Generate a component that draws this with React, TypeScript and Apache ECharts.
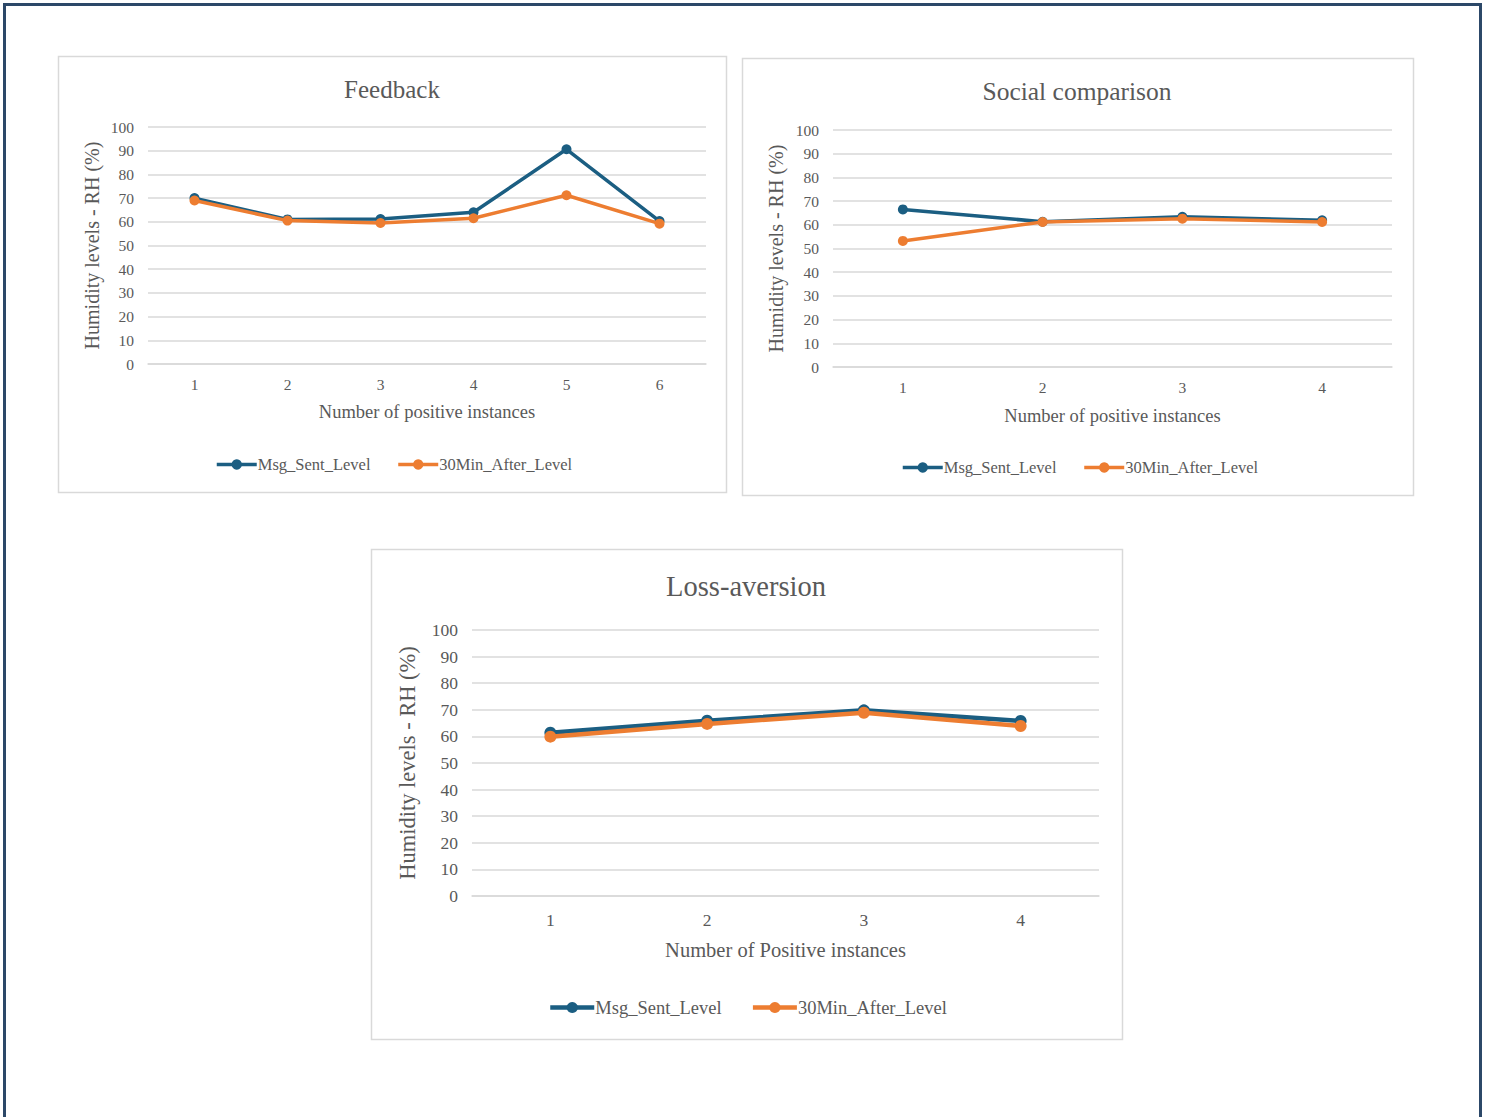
import React, { useEffect, useRef } from "react";
import * as echarts from "echarts";

// Humidity readings (RH %) per instance, per nudge strategy
const feedbackCategories = ["1", "2", "3", "4", "5", "6"];
const feedbackMsgSent = [70, 61, 61.2, 64, 90.6, 60.3];
const feedbackAfter = [69, 60.5, 59.5, 61.5, 71.2, 59.2];

const socialCategories = ["1", "2", "3", "4"];
const socialMsgSent = [66.5, 61.3, 63.4, 61.9];
const socialAfter = [53.2, 61.2, 62.6, 61.2];

const lossCategories = ["1", "2", "3", "4"];
const lossMsgSent = [61.4, 65.9, 69.8, 65.8];
const lossAfter = [59.9, 64.7, 68.9, 63.9];

const seriesNames = ["Msg_Sent_Level", "30Min_After_Level"];
const seriesColors = ["#1b5e82", "#ed7d31"];

const FONT = "Liberation Serif, Times New Roman, serif";
const TEXT = "#595959";

type Panel = {
  title: string;
  xName: string;
  categories: string[];
  values: number[][];
  box: { x: number; y: number; w: number; h: number };
  grid: { left: number; top: number; width: number; height: number };
  titleX: number;
  titleY: number;
  titleSize: number;
  labelSize: number;
  nameSize: number;
  yNameSize: number;
  legendSize: number;
  legendLeft: number;
  legendY: number;
  legendGap: number;
  iconW: number;
  iconH: number;
  lineW: number;
  markSize: number;
  yNameGap: number;
  xNameGap: number;
  labelMargin: number;
};

const panels: Panel[] = [
  {
    title: "Feedback",
    xName: "Number of positive instances",
    categories: feedbackCategories,
    values: [feedbackMsgSent, feedbackAfter],
    box: { x: 58, y: 56, w: 668, h: 436 },
    grid: { left: 148, top: 127, width: 558, height: 237 },
    titleX: 392,
    titleY: 89,
    titleSize: 25,
    labelSize: 15.5,
    nameSize: 18.5,
    yNameSize: 20,
    legendSize: 16.5,
    legendLeft: 215,
    legendY: 456,
    legendGap: 26,
    iconW: 40,
    iconH: 13,
    lineW: 3.5,
    markSize: 10,
    yNameGap: 46,
    xNameGap: 38,
    labelMargin: 12,
  },
  {
    title: "Social comparison",
    xName: "Number of positive instances",
    categories: socialCategories,
    values: [socialMsgSent, socialAfter],
    box: { x: 742, y: 58, w: 671, h: 437 },
    grid: { left: 833, top: 130, width: 559, height: 237 },
    titleX: 1077,
    titleY: 91,
    titleSize: 25.5,
    labelSize: 15.5,
    nameSize: 18.5,
    yNameSize: 20,
    legendSize: 16.5,
    legendLeft: 901,
    legendY: 459,
    legendGap: 26,
    iconW: 40,
    iconH: 13,
    lineW: 3.5,
    markSize: 10,
    yNameGap: 47,
    xNameGap: 39,
    labelMargin: 12,
  },
  {
    title: "Loss-aversion",
    xName: "Number of Positive instances",
    categories: lossCategories,
    values: [lossMsgSent, lossAfter],
    box: { x: 371, y: 549, w: 751, h: 490 },
    grid: { left: 472, top: 630, width: 627, height: 266 },
    titleX: 746,
    titleY: 586,
    titleSize: 28.5,
    labelSize: 17.5,
    nameSize: 20.5,
    yNameSize: 22.5,
    legendSize: 18.5,
    legendLeft: 548,
    legendY: 998,
    legendGap: 29,
    iconW: 44,
    iconH: 14,
    lineW: 4.5,
    markSize: 12,
    yNameGap: 53,
    xNameGap: 43,
    labelMargin: 15,
  },
];

export default function App() {
  const ref = useRef<HTMLDivElement>(null);

  useEffect(() => {
    if (!ref.current) return;
    const chart = echarts.init(ref.current, undefined, { renderer: "svg" });

    const graphic: any[] = [
      {
        type: "rect",
        shape: { x: 4.5, y: 4.5, width: 1476, height: 1130 },
        style: { fill: "none", stroke: "#2c4868", lineWidth: 3 },
        z: 10,
      },
    ];
    panels.forEach((p) => {
      graphic.push({
        type: "rect",
        shape: { x: p.box.x + 0.5, y: p.box.y + 0.5, width: p.box.w, height: p.box.h },
        style: { fill: "#ffffff", stroke: "#d9d9d9", lineWidth: 1.5 },
        z: -10,
      });
      graphic.push({
        type: "text",
        x: p.titleX,
        y: p.titleY,
        style: {
          text: p.title,
          font: `${p.titleSize}px ${FONT}`,
          fill: TEXT,
          textAlign: "center",
          textVerticalAlign: "middle",
        },
      });
    });

    const grids = panels.map((p) => ({ ...p.grid, containLabel: false }));
    const xAxes = panels.map((p, i) => ({
      type: "category",
      gridIndex: i,
      data: p.categories,
      boundaryGap: true,
      name: p.xName,
      nameLocation: "middle",
      nameGap: p.xNameGap,
      nameTextStyle: { fontFamily: FONT, fontSize: p.nameSize, color: TEXT },
      axisTick: { show: false },
      axisLine: { show: true, lineStyle: { color: "#d9d9d9", width: 1.5 } },
      axisLabel: { fontFamily: FONT, fontSize: p.labelSize, color: TEXT, margin: p.labelMargin },
    }));
    const yAxes = panels.map((p, i) => ({
      type: "value",
      gridIndex: i,
      min: 0,
      max: 100,
      interval: 10,
      name: "Humidity levels - RH (%)",
      nameLocation: "middle",
      nameGap: p.yNameGap,
      nameTextStyle: { fontFamily: FONT, fontSize: p.yNameSize, color: TEXT },
      axisLine: { show: false },
      axisTick: { show: false },
      axisLabel: { fontFamily: FONT, fontSize: p.labelSize, color: TEXT, margin: 14 },
      splitLine: { show: true, lineStyle: { color: "#d9d9d9", width: 1.5 } },
    }));

    const series: any[] = [];
    panels.forEach((p, i) => {
      p.values.forEach((vals, k) => {
        series.push({
          type: "line",
          name: seriesNames[k],
          xAxisIndex: i,
          yAxisIndex: i,
          data: vals,
          symbol: "circle",
          symbolSize: p.markSize,
          showSymbol: true,
          lineStyle: { color: seriesColors[k], width: p.lineW },
          itemStyle: { color: seriesColors[k] },
          z: 3 + k,
        });
      });
    });

    const legends = panels.map((p) => ({
      data: seriesNames,
      left: p.legendLeft,
      top: p.legendY,
      padding: 0,
      width: 700,
      itemWidth: p.iconW,
      itemHeight: p.iconH,
      itemGap: p.legendGap,
      lineStyle: { width: p.lineW },
      textStyle: { fontFamily: FONT, fontSize: p.legendSize, color: TEXT, padding: [0, 0, 0, -4] },
    }));

    chart.setOption({
      animation: false,
      backgroundColor: "#ffffff",
      color: seriesColors,
      graphic,
      grid: grids,
      xAxis: xAxes,
      yAxis: yAxes,
      legend: legends,
      series,
    });

    return () => chart.dispose();
  }, []);

  return (
    <div
      ref={ref}
      style={{ position: "fixed", left: 0, top: 0, width: 1486, height: 1117, background: "#fff" }}
    />
  );
}
